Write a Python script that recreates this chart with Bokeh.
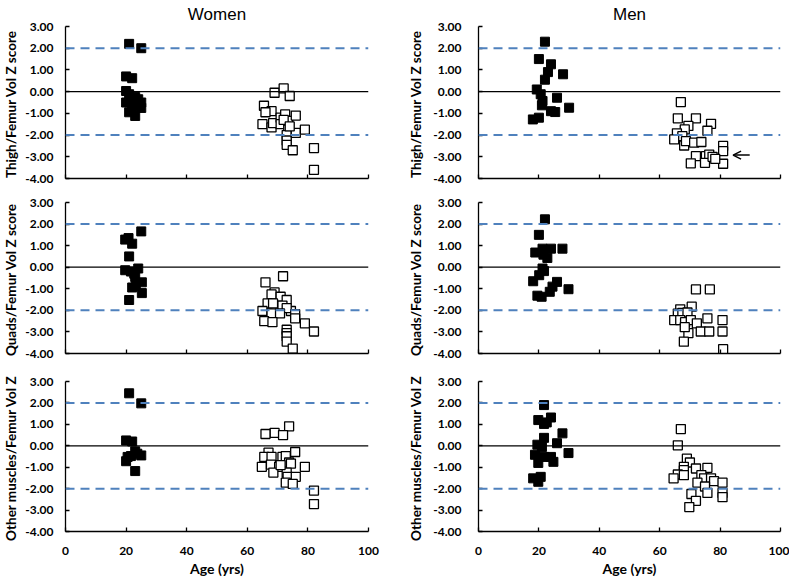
from bokeh.plotting import figure
from bokeh.layouts import column, row
from bokeh.models import Range1d, FixedTicker, PrintfTickFormatter, Span, Arrow, OpenHead, CustomJSTickFormatter
from bokeh.embed import file_html
from bokeh.resources import INLINE

# ---------------- data ----------------
# Women, thigh / femur volume Z score
w_thigh_young_age = [21, 25, 20, 22, 20, 21, 20, 22, 23, 24, 25, 25, 21, 23, 22, 24, 23]
w_thigh_young_z = [2.2, 2.0, 0.7, 0.62, 0.03, -0.12, -0.5, -0.4, -0.25, -0.55, -0.5, -0.75, -0.95, -1.12, -0.7, -0.35, -0.6]
w_thigh_old_age = [69, 72, 74, 65.5, 68, 66, 65, 68, 68.5, 71, 72.5, 71, 73.5, 76, 73.5, 73, 73, 73, 76, 79, 75, 82, 82, 72, 74]
w_thigh_old_z = [-0.05, 0.15, -0.2, -0.65, -0.9, -0.95, -1.5, -1.65, -1.45, -1.2, -1.05, -1.5, -1.35, -1.1, -1.75, -2.0, -2.25, -2.45, -1.9, -1.75, -2.7, -2.6, -3.6, -1.3, -1.6]

# Men, thigh / femur volume Z score
m_thigh_young_age = [22, 20, 24, 23, 22, 28, 19.3, 20.6, 21.2, 21, 26, 30, 24, 25.4, 18, 20]
m_thigh_young_z = [2.3, 1.5, 1.26, 0.9, 0.55, 0.8, 0.1, -0.12, -0.43, -0.63, -0.28, -0.74, -0.9, -0.94, -1.28, -1.2]
m_thigh_old_age = [67, 66, 72, 77, 69.5, 68.3, 75.8, 65.7, 67.5, 64.8, 68.1, 68.7, 71.4, 73.8, 72, 75.3, 76.4, 70.3, 75, 77.5, 81, 81, 81, 78.4]
m_thigh_old_z = [-0.48, -1.23, -1.23, -1.48, -1.58, -1.74, -1.8, -1.92, -2.05, -2.2, -2.48, -2.28, -2.35, -2.32, -2.97, -2.97, -2.9, -3.3, -3.28, -3.0, -2.5, -2.74, -3.32, -3.1]

# Women, quads / femur volume Z score
w_quads_young_age = [25, 19.7, 20.8, 22, 21, 19.7, 21.6, 24, 23, 25.2, 22, 23.2, 25.2, 21, 22.7]
w_quads_young_z = [1.66, 1.28, 1.35, 1.09, 0.5, -0.14, -0.2, -0.06, -0.45, -0.7, -0.94, -0.86, -1.2, -1.52, -0.3]
w_quads_old_age = [71.8, 66, 69, 68, 71, 73, 66.7, 68.5, 71.6, 74.4, 73, 65, 68, 70.8, 75.8, 75.8, 65.6, 68.3, 79, 82, 73, 73, 73, 73, 75]
w_quads_old_z = [-0.42, -0.7, -1.17, -1.26, -1.37, -1.52, -1.68, -1.68, -1.78, -2.03, -1.9, -2.03, -2.14, -2.14, -2.18, -2.37, -2.5, -2.55, -2.6, -2.98, -2.9, -3.06, -3.2, -3.45, -3.77]

# Men, quads / femur volume Z score
m_quads_young_age = [22, 20, 21.2, 24, 27.8, 18.8, 21.5, 22.8, 21.2, 21.7, 20.1, 18.1, 26, 24.5, 23.6, 29.8, 19.5, 20.9]
m_quads_young_z = [2.22, 1.5, 0.86, 0.86, 0.86, 0.68, 0.58, 0.43, -0.06, -0.18, -0.37, -0.65, -0.68, -0.9, -1.14, -1.02, -1.32, -1.37]
m_quads_old_age = [72, 76.6, 66.8, 70.6, 66, 67.5, 69.2, 64.8, 66.8, 68.4, 70.3, 72.3, 75.8, 80.8, 69.5, 73.6, 76.4, 80.8, 68.3, 68, 81]
m_quads_old_z = [-1.03, -1.03, -1.95, -1.83, -2.15, -2.12, -2.1, -2.45, -2.45, -2.55, -2.45, -2.6, -2.37, -2.45, -3.06, -2.98, -2.98, -2.98, -2.78, -3.45, -3.8]

# Women, other muscles / femur volume Z score
w_other_young_age = [21, 25, 20, 22, 23, 25, 23.7, 20.5, 21.6, 20, 23]
w_other_young_z = [2.45, 1.98, 0.25, 0.2, -0.26, -0.45, -0.37, -0.52, -0.48, -0.72, -1.18]
w_other_old_age = [73.8, 69, 66, 71.8, 75.8, 67, 65.6, 68, 71.6, 72.7, 73.8, 74.4, 64.8, 67.8, 70.5, 79, 68.6, 73, 73.3, 76, 72.7, 75, 82, 82, 71]
w_other_old_z = [0.91, 0.6, 0.55, 0.5, -0.29, -0.32, -0.52, -0.52, -0.52, -0.48, -0.78, -0.83, -0.98, -0.88, -0.98, -0.98, -1.25, -1.25, -1.45, -1.45, -1.72, -1.78, -2.09, -2.72, -0.9]

# Men, other muscles / femur volume Z score
m_other_young_age = [21.7, 19.8, 24, 21.7, 22.6, 27.8, 21.7, 26, 19.5, 21, 29.8, 18.7, 21.7, 24, 24.8, 19.8, 20.6, 18.1, 19.8]
m_other_young_z = [1.9, 1.2, 1.32, 1.02, 1.09, 0.58, 0.37, 0.12, 0.05, -0.06, -0.34, -0.42, -0.52, -0.52, -0.75, -0.8, -1.45, -1.52, -1.68]
m_other_old_age = [67, 66, 69, 70, 75.8, 72, 68, 68, 66, 68, 64.6, 73.8, 74.7, 77, 72.5, 78, 80.8, 75, 75.8, 70.5, 72, 69.8, 80.8, 80.8]
m_other_old_z = [0.78, 0.02, -0.6, -0.78, -1.03, -1.06, -0.98, -1.14, -1.34, -1.37, -1.52, -1.37, -1.52, -1.52, -1.72, -1.65, -1.72, -1.9, -2.2, -2.25, -2.57, -2.86, -2.2, -2.4]

# axis / reference values
y_ticks = [-4, -3, -2, -1, 0, 1, 2, 3]
x_ticks = [0, 20, 40, 60, 80, 100]
ref_lines = [2, -2]
zero_line = 0
col_titles = ["Women", "Men"]
row_labels = ["Thigh/Femur Vol  Z score", "Quads/Femur Vol  Z score", "Other muscles/Femur Vol  Z"]
x_label = "Age (yrs)"
# arrow marker in Men / thigh panel (data coords)
arrow_x_start, arrow_x_end, arrow_y = 89.8, 84.3, -2.92

FONT = "Lato"
DASH_COLOR = "#4F81BD"

FRAME_H = [152, 151, 150]
BORDER_TOP = [18, 12, 16]
BORDER_BOTTOM = [12, 12, 45]


def make_panel(ya, yz, oa, oz, row_idx, left_col, title=None):
    kw = {}
    if title is not None:
        kw["title"] = title
    p = figure(frame_width=303 if left_col else 302, frame_height=FRAME_H[row_idx],
               output_backend="svg", toolbar_location=None,
               x_range=Range1d(0, 100), y_range=Range1d(-4, 3), **kw)
    if title is None:
        p.title = None
    p.min_border_left = 60 if left_col else 81
    p.min_border_right = 29 if left_col else 9
    p.min_border_top = BORDER_TOP[row_idx]
    p.min_border_bottom = BORDER_BOTTOM[row_idx]
    p.outline_line_color = None
    p.background_fill_color = "white"
    p.border_fill_color = "white"
    p.xgrid.visible = False
    p.ygrid.visible = False

    if title is not None:
        p.title.align = "center"
        p.title.text_font = "Liberation Sans"
        p.title.text_font_style = "normal"
        p.title.text_font_size = "17px"
        p.title.text_color = "black"
        if "standoff" in p.title.properties():
            p.title.standoff = 5

    # y axis
    ya_ax = p.yaxis[0]
    ya_ax.ticker = FixedTicker(ticks=y_ticks)
    ya_ax.formatter = PrintfTickFormatter(format="%.2f")
    ya_ax.major_tick_in = 4
    ya_ax.major_tick_out = 0
    ya_ax.minor_tick_line_color = None
    ya_ax.axis_line_color = "black"
    ya_ax.axis_line_width = 1.3
    ya_ax.major_tick_line_width = 1.3
    ya_ax.major_label_text_font = FONT
    ya_ax.major_label_text_font_style = "bold"
    ya_ax.major_label_text_font_size = "12px"
    ya_ax.major_label_text_color = "black"
    ya_ax.major_label_standoff = 12 if left_col else 17
    ya_ax.axis_label = row_labels[row_idx]
    ya_ax.axis_label_text_font = FONT
    ya_ax.axis_label_text_font_style = "bold"
    ya_ax.axis_label_text_font_size = "13.5px"
    ya_ax.axis_label_text_color = "black"
    ya_ax.axis_label_standoff = 3 if left_col else 6

    # x axis
    xa = p.xaxis[0]
    xa.ticker = FixedTicker(ticks=x_ticks)
    xa.major_tick_in = 4
    xa.major_tick_out = 0
    xa.minor_tick_line_color = None
    xa.axis_line_color = "black"
    xa.axis_line_width = 1.3
    xa.major_tick_line_width = 1.3
    xa.major_label_text_font = FONT
    xa.major_label_text_font_style = "bold"
    xa.major_label_text_font_size = "12px"
    xa.major_label_text_color = "black"
    if row_idx == 2:
        xa.major_label_standoff = 15
        xa.axis_label = x_label
        xa.axis_label_text_font = FONT
        xa.axis_label_text_font_style = "bold"
        xa.axis_label_text_font_size = "14px"
        xa.axis_label_text_color = "black"
        xa.axis_label_standoff = 2
    else:
        xa.formatter = CustomJSTickFormatter(code="return ''")
        xa.major_label_standoff = 0
        xa.major_label_text_font_size = "1px"

    # reference lines
    for v in ref_lines:
        p.add_layout(Span(location=v, dimension="width", line_color=DASH_COLOR,
                          line_width=2, line_dash="9 6"))
    p.add_layout(Span(location=zero_line, dimension="width", line_color="black", line_width=1.3))

    # points
    p.scatter(ya, yz, marker="square", size=9, fill_color="black", line_color="black", line_width=1)
    p.scatter(oa, oz, marker="square", size=9, fill_color="white", line_color="black", line_width=1.3)
    return p


p11 = make_panel(w_thigh_young_age, w_thigh_young_z, w_thigh_old_age, w_thigh_old_z, 0, True, col_titles[0])
p12 = make_panel(m_thigh_young_age, m_thigh_young_z, m_thigh_old_age, m_thigh_old_z, 0, False, col_titles[1])
p21 = make_panel(w_quads_young_age, w_quads_young_z, w_quads_old_age, w_quads_old_z, 1, True)
p22 = make_panel(m_quads_young_age, m_quads_young_z, m_quads_old_age, m_quads_old_z, 1, False)
p31 = make_panel(w_other_young_age, w_other_young_z, w_other_old_age, w_other_old_z, 2, True)
p32 = make_panel(m_other_young_age, m_other_young_z, m_other_old_age, m_other_old_z, 2, False)

p12.add_layout(Arrow(end=OpenHead(size=8, line_width=1.4, line_color="black"),
                     x_start=arrow_x_start, y_start=arrow_y, x_end=arrow_x_end, y_end=arrow_y,
                     line_color="black", line_width=1.4))

layout = column(row(p11, p12), row(p21, p22), row(p31, p32))

with open("out.html", "w") as f:
    f.write(file_html(layout, INLINE))
